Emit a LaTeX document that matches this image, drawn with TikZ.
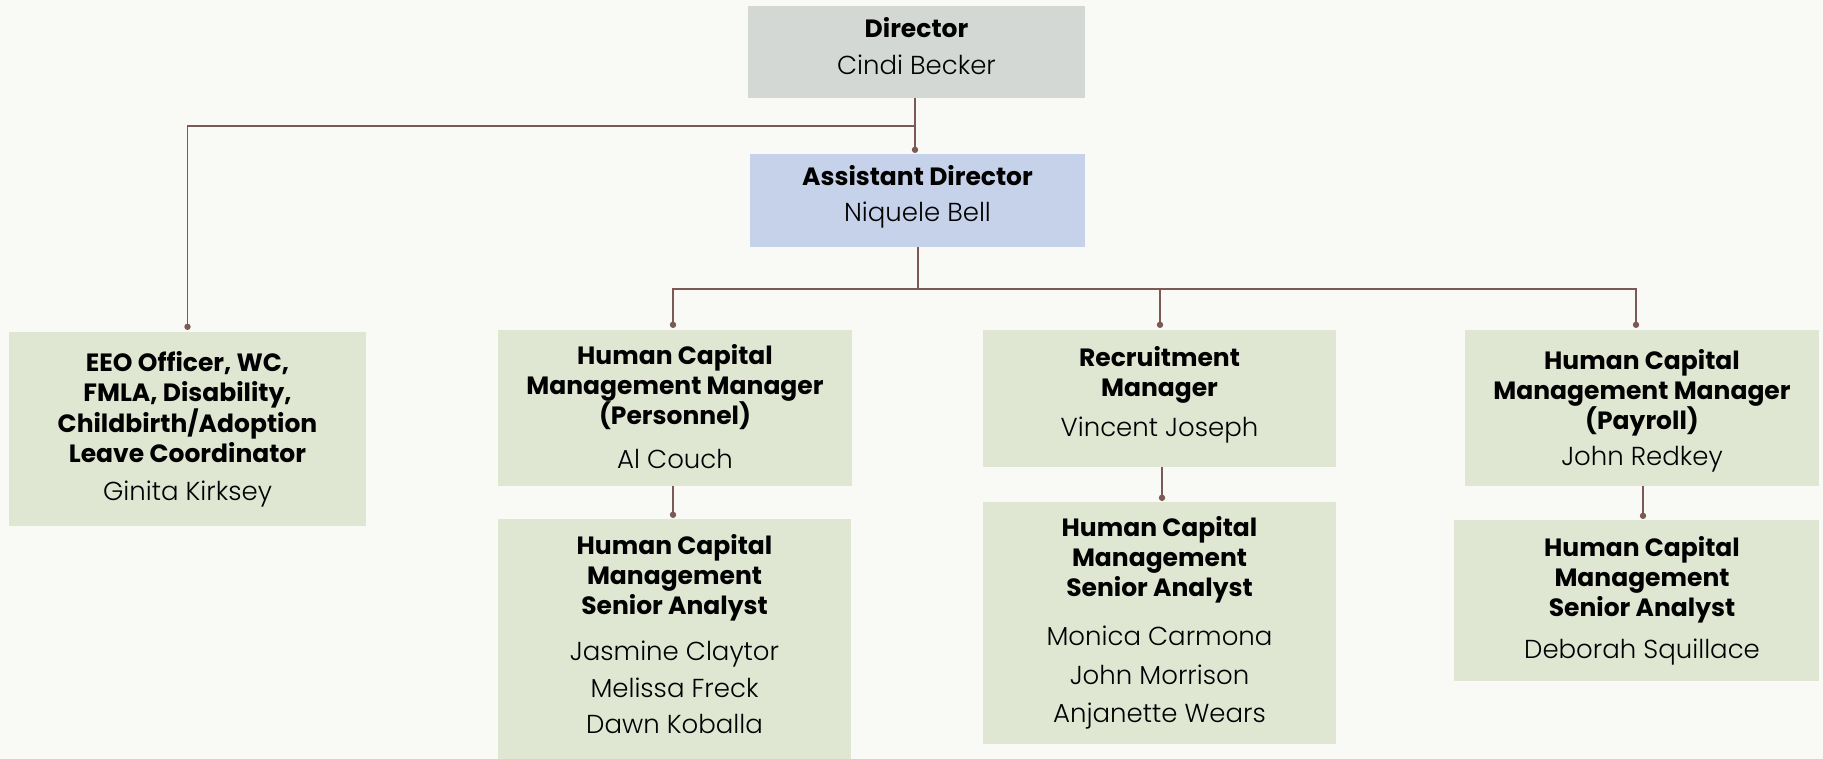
\documentclass[tikz,border=0pt]{standalone}
\usepackage{fontspec}
\setmainfont{Poppins}
\newfontfamily\nm{Poppins Light}
\definecolor{bg}{HTML}{F9FAF5}
\definecolor{boxgreen}{HTML}{DFE6D2}
\definecolor{boxgrey}{HTML}{D3D8D4}
\definecolor{boxblue}{HTML}{C5D2EA}
\definecolor{conncol}{HTML}{7B5A55}
\newcommand{\ttl}[1]{{\bfseries\fontsize{25}{30}\selectfont #1}}
\newcommand{\nmx}[1]{{\nm\fontsize{26}{30}\selectfont #1}}
\begin{document}
\begin{tikzpicture}[x=1pt,y=-1pt,
  box/.style={fill=boxgreen, inner sep=0pt, draw=none},
  txt/.style={inner sep=0pt, align=center, text=black, font=\fontsize{25}{30}\selectfont},
  conn/.style={draw=conncol, line width=1.6pt},
  dot/.style={fill=conncol}
]
\useasboundingbox (0,0) rectangle (1823,759);
\fill[bg] (0,0) rectangle (1823,759);

% boxes
\node[box, fill=boxgrey, minimum width=337pt, minimum height=92pt] (dir) at (916.5,52) {};
\node[box, fill=boxblue, minimum width=335pt, minimum height=93pt] (ad) at (917.5,200.5) {};
\node[box, minimum width=357pt, minimum height=194pt] (eeo) at (187.5,429) {};
\node[box, minimum width=354pt, minimum height=156pt] (hcp) at (675,408) {};
\node[box, minimum width=353pt, minimum height=245pt] (hcpsa) at (674.5,641.5) {};
\node[box, minimum width=353pt, minimum height=137pt] (rec) at (1159.5,398.5) {};
\node[box, minimum width=353pt, minimum height=242pt] (recsa) at (1159.5,623) {};
\node[box, minimum width=354pt, minimum height=156pt] (pay) at (1642,408) {};
\node[box, minimum width=365pt, minimum height=161pt] (paysa) at (1636.5,600.5) {};

% texts
\node[txt] (dirt) at (916.5,46)
  {\ttl{Director}\\[7pt]\nmx{Cindi Becker}};
\node[txt] (adt) at (917.5,197)
  {\ttl{Assistant Director}\\[6pt]\nmx{Niquele Bell}};
\node[txt] (eeot) at (187.5,429.5)
  {\ttl{EEO Officer, WC,}\\\ttl{FMLA, Disability,}\\\ttl{Childbirth/Adoption}\\\ttl{Leave Coordinator}\\[8pt]\nmx{Ginita Kirksey}};
\node[txt] (hcpt) at (675,406.5)
  {\ttl{Human Capital}\\\ttl{Management Manager}\\\ttl{(Personnel)}\\[14pt]\nmx{Al Couch}};
\node[txt] (hcpsat) at (674.5,634.5)
  {\ttl{Human Capital}\\\ttl{Management}\\\ttl{Senior Analyst}\\[16pt]\nmx{Jasmine Claytor}\\[6.5pt]\nmx{Melissa Freck}\\[6.5pt]\nmx{Dawn Koballa}};
\node[txt] (rect) at (1159.5,394.5)
  {\ttl{Recruitment}\\\ttl{Manager}\\[10pt]\nmx{Vincent Joseph}};
\node[txt] (recsat) at (1159.5,623)
  {\ttl{Human Capital}\\\ttl{Management}\\\ttl{Senior Analyst}\\[19pt]\nmx{Monica Carmona}\\[8.5pt]\nmx{John Morrison}\\[8.5pt]\nmx{Anjanette Wears}};
\node[txt] (payt) at (1642,411)
  {\ttl{Human Capital}\\\ttl{Management Manager}\\\ttl{(Payroll)}\\[6pt]\nmx{John Redkey}};
\node[txt] (paysat) at (1642,601)
  {\ttl{Human Capital}\\\ttl{Management}\\\ttl{Senior Analyst}\\[12pt]\nmx{Deborah Squillace}};

% junction coordinates
\coordinate (j1) at (915,126);
\coordinate (j2) at (918,289);

% director to assistant director and EEO
\draw[conn] ([xshift=-1.5pt]dir.south) -- ([xshift=-2.5pt,yshift=4pt]ad.north);
\fill[dot] ([xshift=-2.5pt,yshift=4pt]ad.north) circle (3.2pt);
\draw[conn] (j1) -| ([yshift=5pt]eeo.north);
\fill[dot] ([yshift=5pt]eeo.north) circle (3.2pt);

% assistant director to managers
\draw[conn] ([xshift=0.5pt]ad.south) -- (j2);
\draw[conn] ([xshift=-2pt,yshift=5pt]hcp.north) |- (j2) -| ([xshift=-6pt,yshift=5pt]pay.north);
\draw[conn] (j2) -| ([xshift=0.5pt,yshift=5pt]rec.north);
\fill[dot] ([xshift=-2pt,yshift=5pt]hcp.north) circle (3.2pt);
\fill[dot] ([xshift=0.5pt,yshift=5pt]rec.north) circle (3.2pt);
\fill[dot] ([xshift=-6pt,yshift=5pt]pay.north) circle (3.2pt);

% managers to senior analysts
\draw[conn] ([xshift=-2pt]hcp.south) -- ([xshift=-1.5pt,yshift=4pt]hcpsa.north);
\fill[dot] ([xshift=-1.5pt,yshift=4pt]hcpsa.north) circle (3.2pt);
\draw[conn] ([xshift=2.5pt]rec.south) -- ([xshift=2.5pt,yshift=4pt]recsa.north);
\fill[dot] ([xshift=2.5pt,yshift=4pt]recsa.north) circle (3.2pt);
\draw[conn] ([xshift=1pt]pay.south) -- ([xshift=6.5pt,yshift=4pt]paysa.north);
\fill[dot] ([xshift=6.5pt,yshift=4pt]paysa.north) circle (3.2pt);
\end{tikzpicture}
\end{document}
